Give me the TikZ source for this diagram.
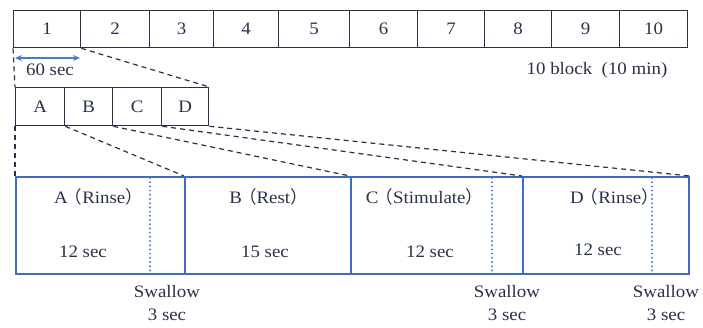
\documentclass[tikz,border=0pt]{standalone}
\usepackage{fontspec}
\setmainfont{Liberation Serif}[FakeStretch=1.08]
\newfontfamily\cjk{Noto Sans CJK SC}
\usetikzlibrary{arrows.meta}
\definecolor{ink}{HTML}{28304A}
\definecolor{bluebox}{HTML}{3F68C8}
\definecolor{arrowblue}{HTML}{4A78D8}
\newcommand{\lp}{{\cjk\kern-3pt（}}
\newcommand{\rp}{{\cjk ）\kern-3pt}}
\tikzset{
  cell/.style={draw=ink, line width=1.3pt, inner sep=0pt, minimum height=37pt, anchor=north west, text=ink},
  sub/.style={draw=ink, line width=1.3pt, inner sep=0pt, minimum height=38pt, anchor=north west, text=ink},
  phase/.style={draw=bluebox, line width=2pt, inner sep=0pt, minimum height=97pt, anchor=north west},
  lbl/.style={text=ink, inner sep=0pt},
  dashline/.style={draw=ink, line width=1.2pt, dash pattern=on 5pt off 4pt},
  dotline/.style={draw=arrowblue, line width=2.2pt, dash pattern=on 0pt off 4.2pt, line cap=round},
  twolines/.style={text=ink, inner sep=0pt, align=center, font=\fontsize{17.5}{23}\selectfont}
}
\begin{document}
\begin{tikzpicture}[x=1pt,y=-1pt,font=\fontsize{17.5}{20}\selectfont]
\useasboundingbox (0,0) rectangle (703,327);
% top row of 10 blocks
\foreach \i/\a/\b in {1/13/80,2/80/149,3/149/213,4/213/278,5/278/349,6/349/417,7/417/484,8/484/551,9/551/619,10/619/687}{
  \node[cell, minimum width={(\b-\a)*1pt}] (c\i) at (\a,10) {\i};
}
% A B C D row
\foreach \n/\a/\b in {A/15/64,B/64/112,C/112/161,D/161/208}{
  \node[sub, minimum width={(\b-\a)*1pt}] (s\n) at (\a,87) {\n};
}
% bottom phase blocks
\foreach \n/\a/\b in {A/15/184,B/184/350,C/350/522,D/522/688}{
  \node[phase, minimum width={(\b-\a)*1pt}] (p\n) at (\a,176) {};
}
% 60 sec arrow
\coordinate (al) at (15,58);
\coordinate (ar) at (80,58);
\draw[arrowblue, line width=1.8pt, {Stealth[length=7pt,width=6pt]}-{Stealth[length=7pt,width=6pt]}] (al) -- (ar);
\node[lbl] (sixty) at (50,70) {60 sec};
\node[lbl] (tenblock) at (597,70) {10 block\ \ (10 min)};
% dashed zoom lines
\draw[dashline] (c1.south west) -- (sA.north west);
\draw[dashline] (c1.south east) -- (sD.north east);
\draw[dashline] (sA.south west) -- (pA.north west);
\draw[dashline] (sA.south east) -- (pB.north west);
\draw[dashline] (sB.south east) -- (pC.north west);
\draw[dashline] (sC.south east) -- (pD.north west);
\draw[dashline] (sD.south east) -- (pD.north east);
% swallow dotted lines
\foreach \k/\x in {1/150,2/492,3/652}{
  \coordinate (w\k t) at (\x,178);
  \coordinate (w\k b) at (\x,271);
  \draw[dotline] (w\k t) -- (w\k b);
}
% phase labels
\node[lbl] (tA) at (97,197) {A\lp Rinse\rp};
\node[lbl] (dA) at (83,252) {12 sec};
\node[lbl] (tB) at (267,197) {B\lp Rest\rp};
\node[lbl] (dB) at (265,252) {15 sec};
\node[lbl] (tC) at (423,197) {C\lp Stimulate\rp};
\node[lbl] (dC) at (430,252) {12 sec};
\node[lbl] (tD) at (613,197) {D\lp Rinse\rp};
\node[lbl] (dD) at (598,250) {12 sec};
% swallow labels
\node[twolines] (sw1) at (167,303) {Swallow\\3 sec};
\node[twolines] (sw2) at (507,303) {Swallow\\3 sec};
\node[twolines] (sw3) at (666,303) {Swallow\\3 sec};
\end{tikzpicture}
\end{document}
